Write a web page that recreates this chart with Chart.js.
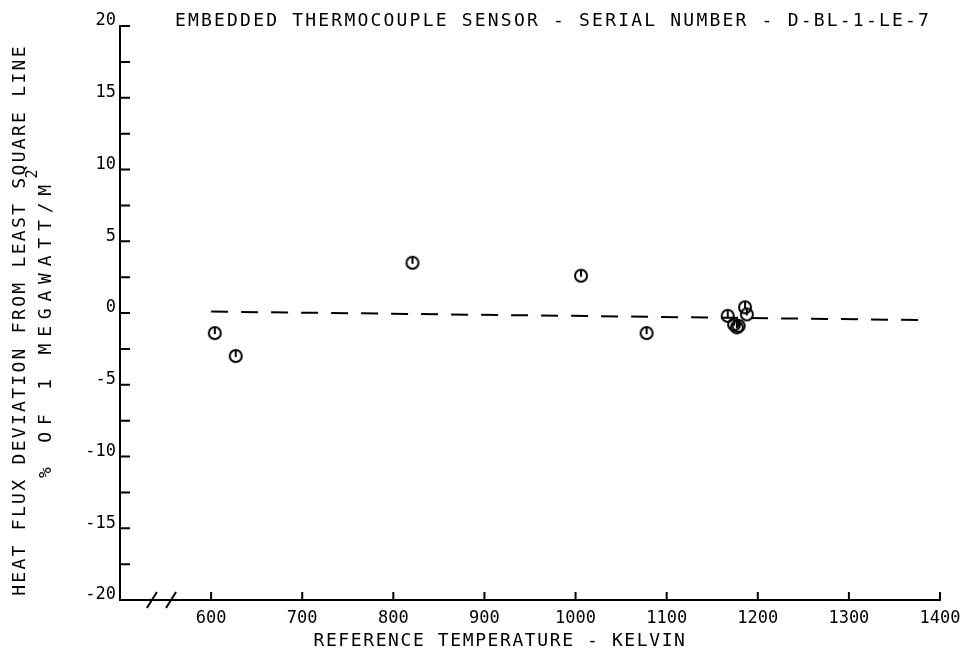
<!DOCTYPE html>
<html>
<head>
<meta charset="utf-8">
<script src="https://cdn.jsdelivr.net/npm/chart.js@4.4.1/dist/chart.umd.min.js"></script>
<style>
  html, body { margin: 0; padding: 0; background: #fff; }
  #wrap { width: 977px; height: 654px; }
</style>
</head>
<body>
<div id="wrap"><canvas id="myChart" width="977" height="654"></canvas></div>
<script>
// measured points (reference temperature K, deviation %)
var tempK = [604, 627, 821, 1006, 1078, 1167, 1174, 1177, 1179, 1186, 1188];
var deviation = [-1.4, -3.0, 3.5, 2.6, -1.4, -0.2, -0.8, -1.0, -0.9, 0.4, -0.1];

// least square line ends
var fitK = [600, 1390];
var fitDev = [0.1, -0.5];

var xTicks = [600, 700, 800, 900, 1000, 1100, 1200, 1300, 1400];
var yTicks = [-20, -17.5, -15, -12.5, -10, -7.5, -5, -2.5, 0, 2.5, 5, 7.5, 10, 12.5, 15, 17.5, 20];
var breakAt = [535, 556];

var titleText = 'EMBEDDED THERMOCOUPLE SENSOR - SERIAL NUMBER - D-BL-1-LE-7';
var xTitle = 'REFERENCE TEMPERATURE - KELVIN';
var yTitle1 = 'HEAT FLUX DEVIATION FROM LEAST SQUARE LINE';
var yTitle2 = '% OF 1 MEGAWATT/M';
var yTitle2Sup = '2';

var mono = '"DejaVu Sans Mono", monospace';

// plotter symbol: circle with a stroke from the top
function makeSymbol() {
  var c = document.createElement('canvas');
  c.width = 16; c.height = 16;
  var g = c.getContext('2d');
  g.strokeStyle = '#000';
  g.lineWidth = 2;
  g.beginPath();
  g.arc(8, 8, 6, 0, Math.PI * 2);
  g.stroke();
  g.beginPath();
  g.moveTo(8, 2);
  g.lineTo(8, 9);
  g.stroke();
  return c;
}

var points = tempK.map(function (t, i) { return { x: t, y: deviation[i] }; });
var fitLine = fitK.map(function (t, i) { return { x: t, y: fitDev[i] }; });

// inward tick marks, axis break and the free text
var decor = {
  id: 'decor',
  afterDraw: function (chart) {
    var ctx = chart.ctx;
    var xs = chart.scales.x, ys = chart.scales.y;
    var a = chart.chartArea;
    ctx.save();
    ctx.strokeStyle = '#000';
    ctx.lineWidth = 2;
    ctx.beginPath();
    yTicks.forEach(function (v) {
      var py = ys.getPixelForValue(v);
      ctx.moveTo(a.left, py);
      ctx.lineTo(a.left + 10, py);
    });
    xTicks.forEach(function (v) {
      var px = xs.getPixelForValue(v);
      ctx.moveTo(px, a.bottom);
      ctx.lineTo(px, a.bottom - 8);
    });
    breakAt.forEach(function (v) {
      var px = xs.getPixelForValue(v);
      ctx.moveTo(px - 5, a.bottom + 8);
      ctx.lineTo(px + 5, a.bottom - 8);
    });
    ctx.stroke();

    ctx.fillStyle = '#000';
    ctx.textAlign = 'center';
    ctx.textBaseline = 'middle';
    ctx.font = '18px ' + mono;
    ctx.letterSpacing = '2.2px';
    ctx.fillText(titleText, 553, 21);
    ctx.letterSpacing = '1.6px';
    ctx.fillText(xTitle, 500, 641);

    ctx.save();
    ctx.translate(20, 320);
    ctx.rotate(-Math.PI / 2);
    ctx.letterSpacing = '2.3px';
    ctx.fillText(yTitle1, 0, 0);
    ctx.restore();

    ctx.save();
    ctx.translate(46, 328);
    ctx.rotate(-Math.PI / 2);
    ctx.letterSpacing = '6.8px';
    ctx.fillText(yTitle2, 0, 0);
    var w = ctx.measureText(yTitle2).width;
    ctx.font = '15px ' + mono;
    ctx.letterSpacing = '0px';
    ctx.fillText(yTitle2Sup, w / 2 + 4, -13);
    ctx.restore();
    ctx.restore();
  }
};

var ctx = document.getElementById('myChart').getContext('2d');
var chart = new Chart(ctx, {
  type: 'scatter',
  data: {
    datasets: [{
      label: 'fit',
      data: fitLine,
      showLine: true,
      borderColor: '#000',
      borderWidth: 2,
      borderDash: [17, 13],
      pointRadius: 0
    }, {
      label: 'points',
      data: points,
      pointStyle: makeSymbol(),
      pointRadius: 8
    }]
  },
  options: {
    responsive: false,
    animation: false,
    layout: { padding: { left: 0, top: 26, right: 37, bottom: 0 } },
    plugins: { legend: { display: false }, tooltip: { enabled: false } },
    scales: {
      x: {
        type: 'linear',
        min: 500,
        max: 1400,
        afterBuildTicks: function (s) { s.ticks = xTicks.map(function (v) { return { value: v }; }); },
        afterFit: function (s) { s.height = 54; },
        grid: { drawOnChartArea: false, drawTicks: false },
        border: { display: true, color: '#000', width: 2 },
        ticks: {
          color: '#000',
          padding: 8,
          maxRotation: 0,
          font: { family: mono, size: 17 },
          callback: function (v) { return String(v); }
        }
      },
      y: {
        min: -20,
        max: 20,
        afterBuildTicks: function (s) { s.ticks = yTicks.map(function (v) { return { value: v }; }); },
        afterFit: function (s) { s.width = 120; },
        grid: { drawOnChartArea: false, drawTicks: false },
        border: { display: true, color: '#000', width: 2 },
        ticks: {
          color: '#000',
          padding: 4,
          labelOffset: -5,
          font: { family: mono, size: 17 },
          callback: function (v) { return v % 5 === 0 ? String(v) : ''; }
        }
      }
    }
  },
  plugins: [decor]
});
</script>
</body>
</html>
